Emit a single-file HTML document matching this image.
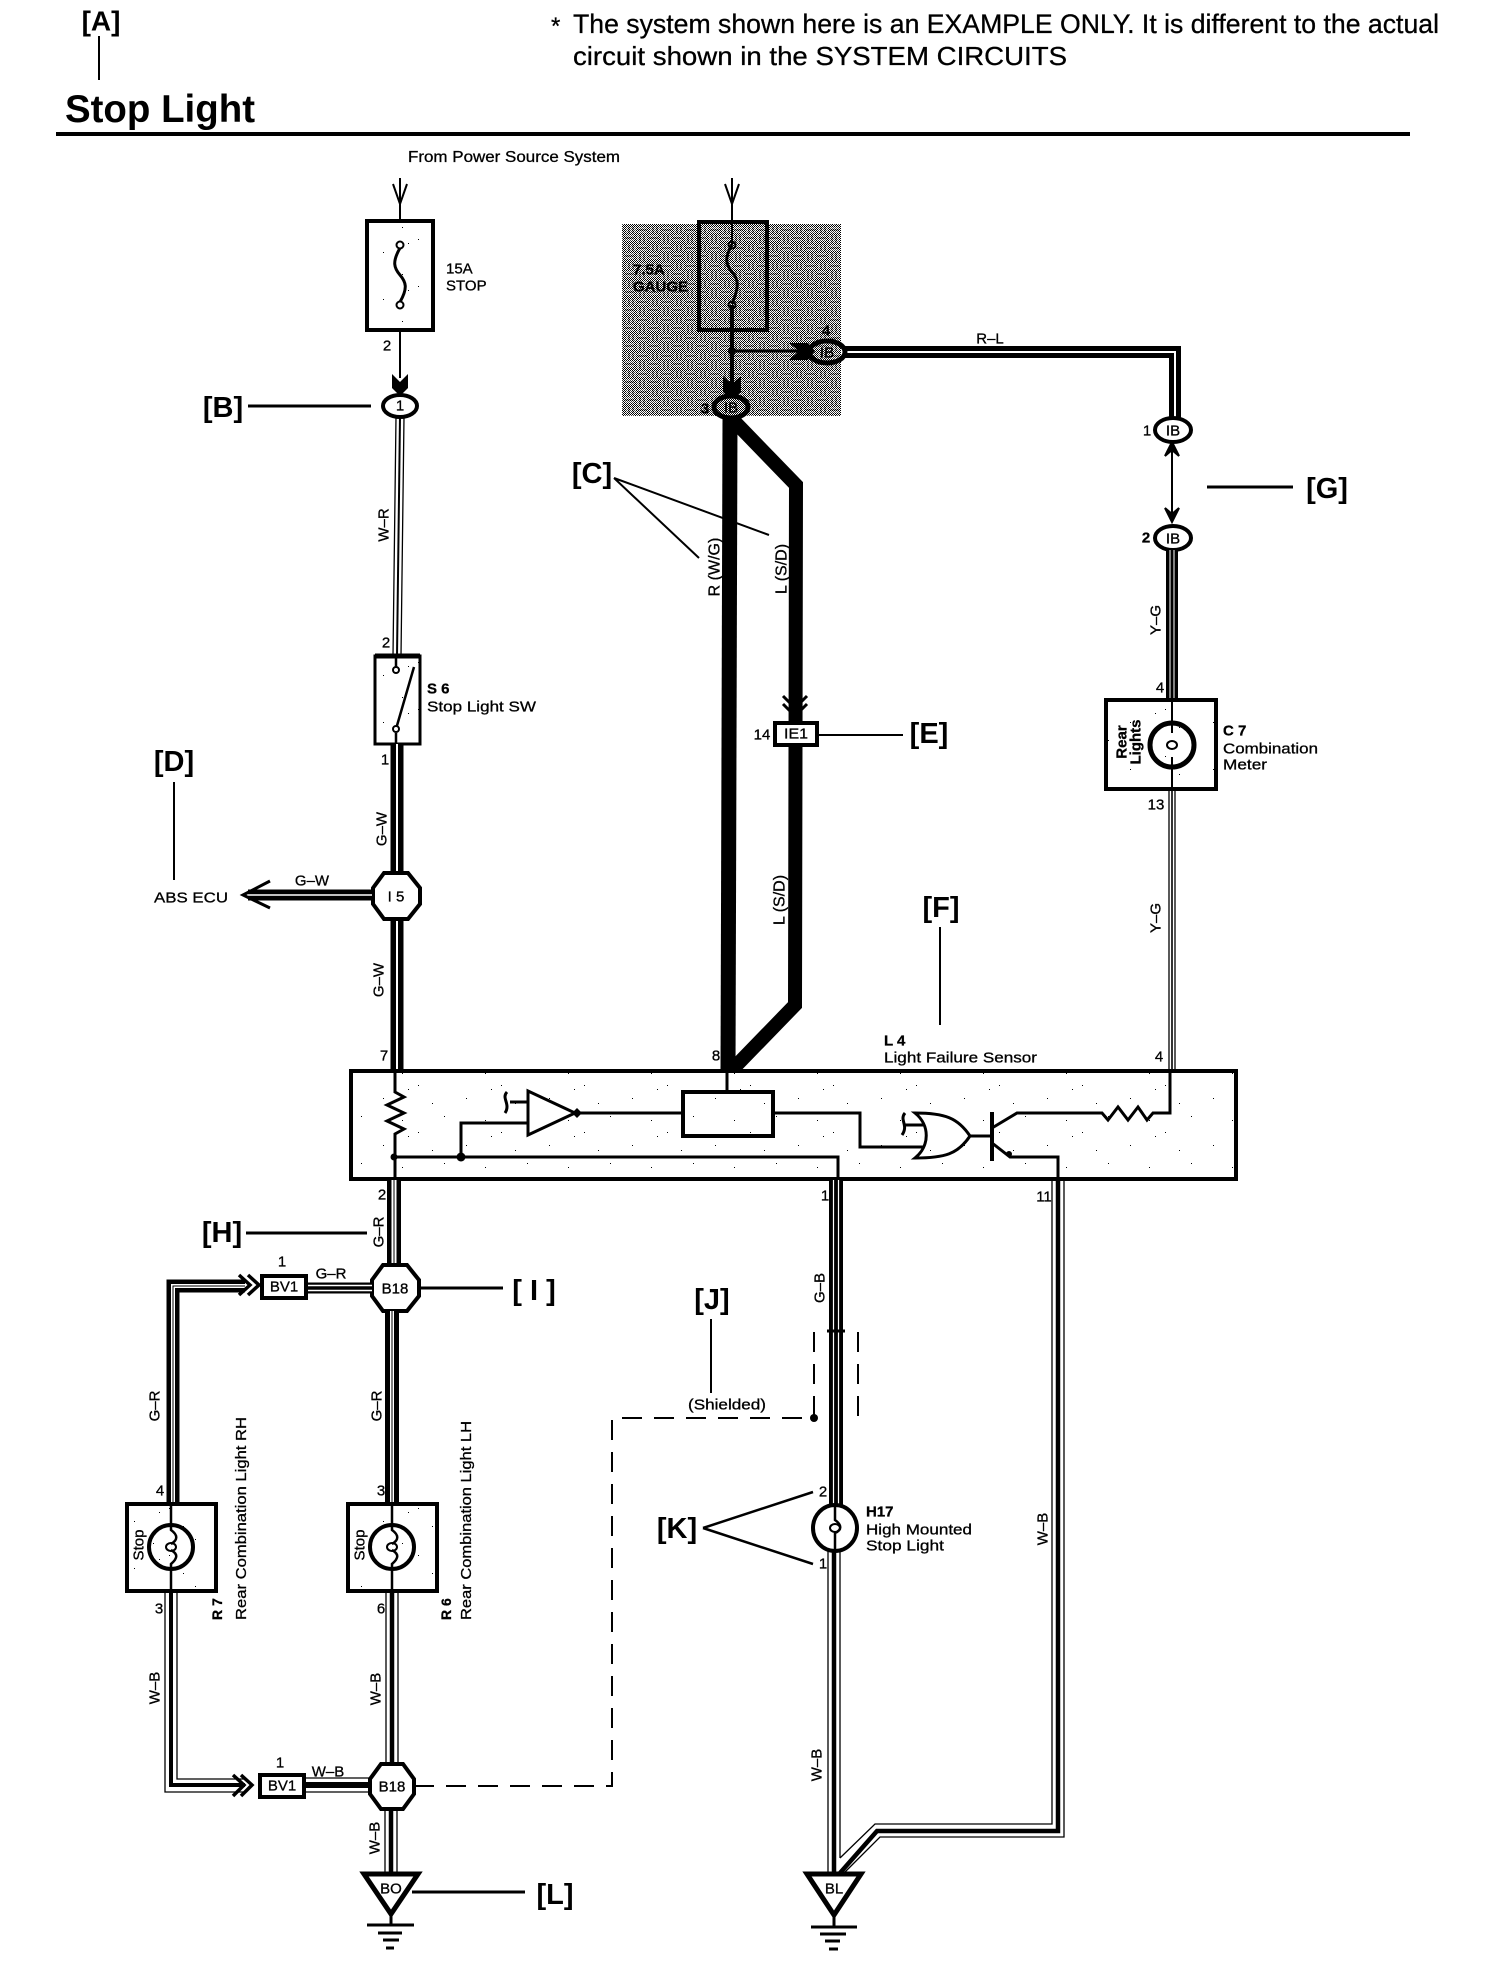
<!DOCTYPE html>
<html><head><meta charset="utf-8"><style>
html,body{margin:0;padding:0;background:#fff}
svg{display:block}
text{font-family:"Liberation Sans",sans-serif;fill:#000;stroke:#000;stroke-width:.3}
.m{text-anchor:middle;dominant-baseline:central;font-size:15px}
.l{dominant-baseline:central;font-size:15px}
.b{font-weight:bold}
.h{text-anchor:middle;dominant-baseline:central;font-size:29px;font-weight:bold;stroke:none}
.ln{fill:none;stroke:#000;stroke-width:2}
.t{fill:none;stroke:#000;stroke-width:3}
.box{fill:url(#spk);stroke:#000;stroke-width:4}
.gk{fill:none;stroke:#000;stroke-width:14}
.gw{fill:none;stroke:#fff;stroke-width:2}
.gr{fill:none;stroke:#fff;stroke-width:5}
.ct{fill:none;stroke:#000;stroke-width:1}
.wb{fill:none;stroke:#000;stroke-width:4.5}
.ot{fill:none;stroke:#000;stroke-width:1.3}
.ic{fill:none;stroke:#000;stroke-width:3}
.conn{fill:#fff;stroke:#000;stroke-width:4}
.d{fill:none;stroke:#000;stroke-width:2;stroke-dasharray:20 12}
</style></head><body>
<svg width="1504" height="1972" viewBox="0 0 1504 1972" xmlns="http://www.w3.org/2000/svg">
<defs>
<pattern id="chk" width="2" height="2" patternUnits="userSpaceOnUse"><rect width="2" height="2" fill="#fff"/><rect width="1" height="1" fill="#000"/><rect x="1" y="1" width="1" height="1" fill="#000"/></pattern>
<pattern id="lab" width="24" height="18" patternUnits="userSpaceOnUse"><path d="M1 2h9M1 6h9M14 1v8M18 1v8M22 1v8M3 11v6M7 11v6M11 11v6M14 12h9M14 16h9" stroke="#fff" stroke-width="1" fill="none" opacity=".5"/><path d="M1 4h9M16 1v8M20 1v8M5 11v6M9 11v6M14 14h9" stroke="#000" stroke-width="1" fill="none" opacity=".35"/></pattern>
<pattern id="spk" width="83" height="47" patternUnits="userSpaceOnUse"><rect width="83" height="47" fill="#fff"/><path d="M3 4h1v1h-1zM29 35h1v1h-1zM51 17h1v1h-1zM70 39h1v1h-1zM76 8h1v1h-1zM17 22h1v1h-1z" fill="#000"/></pattern>
</defs>
<rect width="1504" height="1972" fill="#fff"/>

<!-- header -->
<text class="h" x="101" y="21" style="font-size:28px">[A]</text>
<path class="ln" d="M99 36V80"/>
<text x="65" y="122" font-size="39" font-weight="bold" textLength="190" lengthAdjust="spacingAndGlyphs" style="stroke:none">Stop Light</text>
<path d="M56 134H1410" stroke="#000" stroke-width="4"/>
<text x="551" y="34" font-size="24">*</text>
<text x="573" y="33" font-size="27" textLength="866" lengthAdjust="spacingAndGlyphs">The system shown here is an EXAMPLE ONLY. It is different to the actual</text>
<text x="573" y="65" font-size="26" textLength="494" lengthAdjust="spacingAndGlyphs">circuit shown in the SYSTEM CIRCUITS</text>
<text x="408" y="162" font-size="16" textLength="212" lengthAdjust="spacingAndGlyphs">From Power Source System</text>

<!-- gray patch -->
<rect x="622" y="224" width="219" height="192" fill="url(#chk)"/>
<rect x="622" y="224" width="219" height="192" fill="url(#lab)"/>

<!-- left fuse -->
<path class="ln" d="M400 178V245M393 184L400 204L407 184M400 305V378"/>
<rect x="367" y="221" width="66" height="109" class="box"/>
<path class="t" d="M400 248C392 262 394 268 400 275S408 288 400 302"/>
<circle cx="400" cy="245" r="3.5" fill="#fff" stroke="#000" stroke-width="2"/>
<circle cx="400" cy="305" r="3.5" fill="#fff" stroke="#000" stroke-width="2"/>
<path d="M392 374L400 382L408 374L408 388L400 396L392 388Z" fill="#000"/>
<text class="l" x="446" y="269">15A</text><text class="l" x="446" y="286">STOP</text>
<text class="m" x="387" y="346">2</text>

<!-- gauge fuse -->
<path class="ln" d="M732 178V245M725 184L732 204L739 184"/>
<rect x="699" y="222" width="68" height="108" fill="none" stroke="#000" stroke-width="4"/>
<path class="t" d="M732 245C724 258 726 265 732 272S740 285 732 304"/>
<circle cx="732" cy="245" r="3.5" fill="none" stroke="#000" stroke-width="2"/>
<circle cx="732" cy="305" r="3.5" fill="none" stroke="#000" stroke-width="2"/>
<path d="M732 305V395" stroke="#000" stroke-width="4"/>
<circle cx="732" cy="351" r="4" fill="#000"/>
<path d="M732 351H800" stroke="#000" stroke-width="3"/>
<path d="M789 343L799 351L789 360L808 360L815 351L808 343Z" fill="#000"/>
<path d="M723 376L732 384L741 376L741 392L732 400L723 392Z" fill="#000"/>
<text class="l b" x="633" y="270" font-size="15">7.5A</text>
<text class="l b" x="633" y="287" font-size="15">GAUGE</text>

<!-- R-L wire -->
<path d="M845 352H1175V420" fill="none" stroke="#000" stroke-width="12"/>
<path d="M845 352H1175V420" fill="none" stroke="#fff" stroke-width="2"/>
<text class="m" x="990" y="339">R–L</text>
<ellipse cx="827" cy="352" rx="18" ry="11" fill="none" stroke="#000" stroke-width="5"/>
<text class="m" x="827" y="353" font-size="13">IB</text>
<text class="m b" x="826" y="331">4</text>

<!-- thick middle wires -->
<path d="M730 418L728 1072" fill="none" stroke="#000" stroke-width="15"/>
<path d="M735 422L796 485L795 1005L730 1072" fill="none" stroke="#000" stroke-width="14" stroke-linejoin="miter"/>
<ellipse cx="731" cy="407" rx="17" ry="11" fill="url(#chk)" stroke="#000" stroke-width="5"/>
<text class="m" x="731" y="408" font-size="13">IB</text>
<text class="m b" x="705" y="409">3</text>
<path d="M783 696L795 708L807 696M783 704L795 716L807 704" fill="none" stroke="#000" stroke-width="3"/>
<path d="M795 700V722" stroke="#000" stroke-width="5"/>
<rect x="775" y="723" width="42" height="22" fill="#fff" stroke="#000" stroke-width="4"/>
<text class="m" x="796" y="734" font-size="14" textLength="24" lengthAdjust="spacingAndGlyphs">IE1</text>
<text class="m" x="762" y="735">14</text>
<path class="ln" d="M819 735H903"/>
<text class="h" x="929" y="734">[E]</text>

<text class="m" transform="rotate(-90 715 567)" x="715" y="567" style="font-size:16px">R (W/G)</text>
<text class="m" transform="rotate(-90 782 569)" x="782" y="569" style="font-size:16px">L (S/D)</text>
<text class="m" transform="rotate(-90 780 900)" x="780" y="900" style="font-size:16px">L (S/D)</text>
<text class="m" x="716" y="1056">8</text>
<text class="h" x="592" y="474">[C]</text>
<path class="ln" d="M614 478L699 558M614 478L769 535"/>

<!-- left column upper -->
<path class="wb" style="stroke-width:2" d="M400 417L397 656"/>
<path class="ot" d="M396 417L393 656M404 417L401 656"/>
<ellipse class="conn" cx="400" cy="406" rx="17" ry="11"/>
<text class="m" x="400" y="406" font-size="14">1</text>
<text class="h" x="223" y="408">[B]</text>
<path class="ln" d="M248 406H371" style="stroke-width:3"/>
<text class="m" transform="rotate(-90 384 525)" x="384" y="525">W–R</text>
<text class="m" x="386" y="643">2</text>

<rect x="375" y="656" width="45" height="88" fill="url(#spk)" stroke="#000" stroke-width="3"/>
<path d="M375 656H420" stroke="#000" stroke-width="5"/>
<path class="ln" d="M396 657V668M396 733V744M396 729L414 667" style="stroke-width:2.5"/>
<circle cx="396" cy="670" r="3" fill="#fff" stroke="#000" stroke-width="2"/>
<circle cx="396" cy="729" r="3" fill="#fff" stroke="#000" stroke-width="2"/>
<text class="l b" x="427" y="689" font-size="14">S 6</text>
<text class="l" x="427" y="707" textLength="109" lengthAdjust="spacingAndGlyphs">Stop Light SW</text>
<text class="m" x="385" y="760">1</text>

<path class="gk" d="M397 744V875" style="stroke-width:13"/><path class="gw" d="M397 744V875"/>
<path class="gk" d="M397 918V1071" style="stroke-width:13"/><path class="gw" d="M397 918V1071"/>
<text class="m" transform="rotate(-90 382 829)" x="382" y="829">G–W</text>
<text class="m" transform="rotate(-90 379 980)" x="379" y="980">G–W</text>
<polygon class="conn" points="384,873 408,873 420,888 420,904 408,919 384,919 373,904 373,888"/>
<text class="m" x="396" y="897" font-size="14">I 5</text>

<path d="M372 895H248" stroke="#000" stroke-width="11"/><path d="M372 895H248" stroke="#fff" stroke-width="1.6"/>
<path d="M270 881L243 895L270 908" fill="none" stroke="#000" stroke-width="3"/>
<text class="m" x="312" y="881">G–W</text>
<text class="m" x="191" y="898" textLength="74" lengthAdjust="spacingAndGlyphs">ABS ECU</text>
<text class="h" x="174" y="762">[D]</text>
<path class="ln" d="M174 782V880"/>

<!-- right column -->
<path class="ln" d="M1172 445V520"/>
<path d="M1165 456L1172 442L1179 456L1172 450ZM1165 508L1172 522L1179 508L1172 514Z" fill="#000" stroke="#000" stroke-width="2"/>
<ellipse class="conn" cx="1173" cy="430" rx="18" ry="12"/>
<text class="m" x="1173" y="431" font-size="14">IB</text>
<text class="m" x="1147" y="431">1</text>
<ellipse class="conn" cx="1173" cy="538" rx="18" ry="12"/>
<text class="m" x="1173" y="539" font-size="14">IB</text>
<text class="m b" x="1146" y="538">2</text>
<path class="ln" d="M1207 487H1293" style="stroke-width:3"/>
<text class="h" x="1327" y="489">[G]</text>
<path class="gk" d="M1172 550V700" style="stroke-width:12"/><path d="M1170 550V700M1174 550V700" stroke="#fff" stroke-width="1"/>
<text class="m" transform="rotate(-90 1156 620)" x="1156" y="620">Y–G</text>
<text class="m" x="1160" y="688">4</text>
<rect x="1106" y="700" width="110" height="89" class="box"/>
<circle cx="1172" cy="745" r="22" fill="none" stroke="#000" stroke-width="5"/>
<path class="ln" d="M1172 700V733M1172 757V790"/>
<ellipse cx="1172" cy="745" rx="5" ry="4" fill="none" stroke="#000" stroke-width="2"/>
<text class="m b" transform="rotate(-90 1122 742)" x="1122" y="742" font-size="14">Rear</text>
<text class="m b" transform="rotate(-90 1136 742)" x="1136" y="742" font-size="14">Lights</text>
<text class="l b" x="1223" y="731" font-size="14">C 7</text>
<text class="l" x="1223" y="749" textLength="95" lengthAdjust="spacingAndGlyphs">Combination</text>
<text class="l" x="1223" y="765" textLength="44" lengthAdjust="spacingAndGlyphs">Meter</text>
<text class="m" x="1156" y="805">13</text>
<path class="ot" d="M1169 790V1071M1175 790V1071" />
<path class="ot" d="M1172 790V1071" style="stroke-width:1.6"/>
<text class="m" transform="rotate(-90 1156 918)" x="1156" y="918">Y–G</text>
<text class="m" x="1159" y="1057">4</text>
<text class="h" x="941" y="908">[F]</text>
<path class="ln" d="M940 927V1025"/>
<text class="l b" x="884" y="1041" font-size="14">L 4</text>
<text class="l" x="884" y="1058" textLength="153" lengthAdjust="spacingAndGlyphs">Light Failure Sensor</text>
<text class="m" x="384" y="1056">7</text>

<!-- sensor box -->
<rect x="351" y="1071" width="885" height="108" class="box"/>
<path class="ic" d="M395 1071V1092L404 1097L387 1105L404 1113L387 1121L404 1129L395 1134V1180"/>
<path class="ic" d="M394 1157H838V1180"/>
<path class="ic" d="M461 1157V1123H528"/>
<path class="ic" d="M510 1102H528"/>
<path class="ic" d="M507 1092C501 1098 511 1104 505 1113"/>
<polygon class="ic" points="528,1091 528,1135 575,1113"/>
<path class="ic" d="M575 1113H682"/>
<rect class="ic" x="683" y="1092" width="90" height="44" style="stroke-width:4"/>
<path class="ic" d="M727 1092V1071"/>
<path class="ic" d="M773 1113H860V1147H923"/>
<path class="ic" d="M915 1113C930 1125 930 1146 915 1158C945 1158 958 1154 970 1136C958 1118 945 1113 915 1113Z"/>
<path class="ic" d="M903 1125H925"/>
<path class="ic" d="M905 1113C899 1120 909 1125 902 1135"/>
<path class="ic" d="M970 1136H992"/>
<path d="M992 1112V1161" stroke="#000" stroke-width="4"/>
<path class="ic" d="M992 1128L1017 1113H1102L1108 1120L1118 1107L1128 1120L1138 1107L1147 1120L1153 1113H1170V1071"/>
<path class="ic" d="M992 1143L1010 1157H1058V1180"/>
<circle cx="394" cy="1157" r="3.5" fill="#000"/>
<circle cx="461" cy="1157" r="4.5" fill="#000"/>
<path d="M577 1108l5 5l-5 5l-5 -5z" fill="#000"/>
<circle cx="1009" cy="1154" r="3" fill="#000"/>

<!-- below sensor: left -->
<path class="gk" d="M394 1180V1266"/><path class="gr" d="M394 1180V1266"/><path class="ct" d="M394 1180V1266"/>
<text class="m" x="382" y="1195">2</text>
<text class="m" transform="rotate(-90 379 1232)" x="379" y="1232">G–R</text>
<text class="h" x="222" y="1233">[H]</text>
<path class="ln" d="M246 1233H367" style="stroke-width:3"/>
<polygon class="conn" points="383,1265 407,1265 419,1280 419,1296 407,1311 383,1311 372,1296 372,1280"/>
<text class="m" x="395" y="1289" font-size="14">B18</text>
<path class="ln" d="M420 1288H503" style="stroke-width:3"/>
<text class="h" x="534" y="1291">[ I ]</text>
<path d="M306 1288H372" stroke="#000" stroke-width="11"/><path d="M306 1285.5H372M306 1290.5H372" stroke="#fff" stroke-width="1.4"/>
<rect x="262" y="1276" width="44" height="22" fill="#fff" stroke="#000" stroke-width="4"/>
<text class="m" x="284" y="1287" font-size="14">BV1</text>
<text class="m" x="282" y="1262">1</text>
<text class="m" x="331" y="1274">G–R</text>
<path d="M173 1504V1286H245" fill="none" stroke="#000" stroke-width="13"/>
<path d="M173 1504V1286H245" fill="none" stroke="#fff" stroke-width="4"/>
<path d="M173 1504V1286H245" fill="none" stroke="#000" stroke-width="1"/>
<path d="M239 1275L250 1285L239 1295M248 1275L259 1285L248 1295" fill="none" stroke="#000" stroke-width="3.5"/>
<text class="m" transform="rotate(-90 155 1406)" x="155" y="1406">G–R</text>
<path class="gk" d="M392 1311V1504"/><path class="gr" d="M392 1311V1504" style="stroke-width:4"/><path class="ct" d="M392 1311V1504"/>
<text class="m" transform="rotate(-90 377 1406)" x="377" y="1406">G–R</text>
<text class="m" x="160" y="1491">4</text>
<text class="m" x="381" y="1491">3</text>

<!-- lamps -->
<rect x="127" y="1504" width="89" height="87" class="box"/>
<circle cx="171" cy="1547" r="22" fill="none" stroke="#000" stroke-width="4"/>
<path class="ic" d="M171 1504V1530C178 1535 178 1540 171 1544M171 1550C178 1554 178 1558 171 1564V1592" style="stroke-width:2.5"/>
<ellipse cx="171" cy="1547" rx="5" ry="4" fill="none" stroke="#000" stroke-width="2"/>
<text class="m" transform="rotate(-90 139 1545)" x="139" y="1545">Stop</text>
<rect x="348" y="1504" width="89" height="87" class="box"/>
<circle cx="392" cy="1547" r="22" fill="none" stroke="#000" stroke-width="4"/>
<path class="ic" d="M392 1504V1530C399 1535 399 1540 392 1544M392 1550C399 1554 399 1558 392 1564V1592" style="stroke-width:2.5"/>
<ellipse cx="392" cy="1547" rx="5" ry="4" fill="none" stroke="#000" stroke-width="2"/>
<text class="m" transform="rotate(-90 360 1545)" x="360" y="1545">Stop</text>
<text transform="translate(222 1620) rotate(-90)" font-size="14" font-weight="bold">R 7</text>
<text transform="translate(246 1620) rotate(-90)" font-size="15" textLength="203" lengthAdjust="spacingAndGlyphs">Rear Combination Light RH</text>
<text transform="translate(451 1620) rotate(-90)" font-size="14" font-weight="bold">R 6</text>
<text transform="translate(471 1620) rotate(-90)" font-size="15" textLength="199" lengthAdjust="spacingAndGlyphs">Rear Combination Light LH</text>
<text class="m" x="159" y="1609">3</text>
<text class="m" x="381" y="1609">6</text>

<path class="ot" d="M165 1592V1792H245M177 1592V1779H245"/>
<path d="M171 1592V1785H245" fill="none" stroke="#000" stroke-width="4"/>
<path d="M233 1775L244 1785L233 1796M241 1775L252 1785L241 1796" fill="none" stroke="#000" stroke-width="3.5"/>
<text class="m" transform="rotate(-90 155 1688)" x="155" y="1688">W–B</text>
<path class="wb" d="M392 1592V1765"/><path class="ot" d="M386 1592V1765M398 1592V1765"/>
<text class="m" transform="rotate(-90 376 1689)" x="376" y="1689">W–B</text>
<rect x="260" y="1775" width="44" height="22" fill="#fff" stroke="#000" stroke-width="4"/>
<text class="m" x="282" y="1786" font-size="14">BV1</text>
<text class="m" x="280" y="1763">1</text>
<text class="m" x="328" y="1772">W–B</text>
<path d="M304 1785H369" stroke="#000" stroke-width="6"/>
<path class="ot" d="M304 1778H369M304 1792H369"/>
<polygon class="conn" points="381,1764 403,1764 414,1779 414,1794 403,1809 381,1809 370,1794 370,1779"/>
<text class="m" x="392" y="1787" font-size="14">B18</text>
<path class="wb" d="M391 1809V1874"/><path class="ot" d="M385 1809V1874M397 1809V1874"/>
<text class="m" transform="rotate(-90 375 1838)" x="375" y="1838">W–B</text>

<!-- shield dashed -->
<path class="d" d="M414 1786H612V1418H812"/>
<circle cx="814" cy="1418" r="4" fill="#000"/>
<path class="d" d="M814 1332V1418M858 1332V1418"/>
<text class="m" x="727" y="1405" textLength="78" lengthAdjust="spacingAndGlyphs">(Shielded)</text>
<text class="h" x="712" y="1300">[J]</text>
<path class="ln" d="M711 1319V1393"/>

<!-- center wire -->
<path class="gk" d="M836 1180L836 1508"/><path d="M833.5 1180V1508M838.5 1180V1508" stroke="#fff" stroke-width="1.2"/>
<path d="M827 1331H845" stroke="#000" stroke-width="3"/>
<text class="m" x="825" y="1196">1</text>
<text class="m" transform="rotate(-90 820 1288)" x="820" y="1288">G–B</text>
<ellipse cx="835" cy="1528" rx="22" ry="23" fill="#fff" stroke="#000" stroke-width="4"/>
<path class="ic" d="M835 1505V1520C842 1525 842 1530 835 1533V1551" style="stroke-width:2.5"/>
<ellipse cx="835" cy="1528" rx="5" ry="4" fill="none" stroke="#000" stroke-width="2"/>
<text class="m" x="823" y="1492">2</text>
<text class="m" x="823" y="1564">1</text>
<text class="h" x="677" y="1529">[K]</text>
<path class="ln" d="M703 1528L813 1492M703 1528L813 1564" style="stroke-width:2.5"/>
<text class="l b" x="866" y="1512" font-size="14">H17</text>
<text class="l" x="866" y="1530" textLength="106" lengthAdjust="spacingAndGlyphs">High Mounted</text>
<text class="l" x="866" y="1546" textLength="78" lengthAdjust="spacingAndGlyphs">Stop Light</text>
<path class="wb" d="M834 1551V1874"/><path class="ot" d="M828 1551V1874M840 1551V1858"/>
<text class="m" transform="rotate(-90 817 1765)" x="817" y="1765">W–B</text>

<!-- right W-B wire -->
<path class="ot" d="M1052 1180V1824H875L840 1858M1064 1180V1837H880L845 1872"/>
<path class="wb" d="M1058 1180V1831H877L840 1873"/>
<text class="m" x="1044" y="1197">11</text>
<text class="m" transform="rotate(-90 1043 1529)" x="1043" y="1529">W–B</text>

<!-- grounds -->
<polygon points="364,1874 418,1874 391,1914" fill="#fff" stroke="#000" stroke-width="5"/>
<text class="m" x="391" y="1889" font-size="14">BO</text>
<path class="ln" d="M412 1892H525" style="stroke-width:3"/>
<text class="h" x="555" y="1895">[L]</text>
<path d="M391 1914V1925M367 1925H414M378 1933H402M383 1940H399M386 1948H394" stroke="#000" stroke-width="3" fill="none"/>
<polygon points="807,1874 861,1874 834,1915" fill="#fff" stroke="#000" stroke-width="5"/>
<text class="m" x="834" y="1889" font-size="14">BL</text>
<path d="M834 1915V1927M811 1927H857M820 1934H846M825 1941H840M829 1949H838" stroke="#000" stroke-width="3" fill="none"/>
</svg>
</body></html>
